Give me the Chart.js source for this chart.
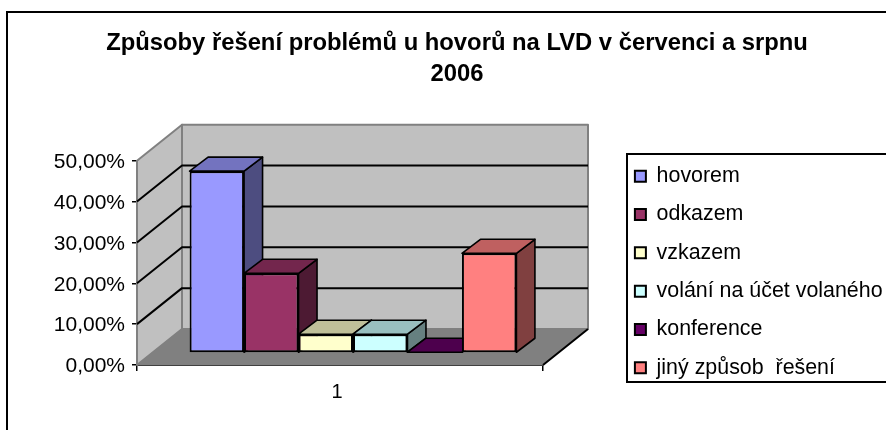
<!DOCTYPE html>
<html><head><meta charset="utf-8">
<style>html,body{margin:0;padding:0;background:#fff}canvas{display:block}</style>
<script src="https://cdn.jsdelivr.net/npm/chart.js@4"></script>
</head><body>
<div style="width:886px;height:430px"><canvas id="c" width="886" height="430"></canvas></div>
<script>
const categories = ['1'];
const seriesNames = ['hovorem','odkazem','vzkazem','volání na účet volaného','konference','jiný způsob  řešení'];
const hovorem = [44.5];
const odkazem = [19.5];
const vzkazem = [4.6];
const volani = [4.6];
const konference = [0.2];
const jiny = [24.4];
const seriesValues = [hovorem, odkazem, vzkazem, volani, konference, jiny];
const seriesColors = ['#9999FF','#993366','#FFFFCC','#CCFFFF','#660066','#FF8080'];
const titleLines = ['Způsoby řešení problémů u hovorů na LVD v červenci a srpnu','2006'];

const FONT = '"Liberation Sans", Arial, sans-serif';
const WALL = {dx:45, dy:36};      // depth of the 3D box
const BAR = {dx:13, dy:12, sx:18.5, sy:14}; // bar plane offset and bar depth

function shade(hex,f){
  const n=parseInt(hex.slice(1),16);
  return `rgb(${Math.round((n>>16&255)*f)},${Math.round((n>>8&255)*f)},${Math.round((n&255)*f)})`;
}
function poly(ctx,pts,fill,stroke,lw){
  ctx.beginPath();
  pts.forEach((p,i)=>i?ctx.lineTo(p[0],p[1]):ctx.moveTo(p[0],p[1]));
  ctx.closePath();
  if(fill){ctx.fillStyle=fill;ctx.fill();}
  if(stroke){ctx.strokeStyle=stroke;ctx.lineWidth=lw;ctx.lineJoin='round';ctx.stroke();}
}
const box3d = {
  id:'box3d',
  beforeLayout(chart){
    const lg=chart.legend;
    if(!lg._wrapped){
      const f=lg.fit;
      lg.fit=function(){ f.call(this); this.width=343; };
      lg._wrapped=true;
    }
  },
  afterLayout(chart){
    const l=chart.legend;
    l.left=618; l.right=886; l.top=121; l.bottom=423;
  },
  beforeDraw(chart){
    const ctx=chart.ctx;
    ctx.save();
    ctx.strokeStyle='#000';ctx.lineWidth=2;
    ctx.strokeRect(7,12,1000,1000);
    ctx.strokeRect(627,154,1000,228);
    ctx.restore();
  },
  beforeDatasetsDraw(chart){
    const {ctx,chartArea:a,scales:{y}}=chart;
    const y0=y.getPixelForValue(0), yT=y.getPixelForValue(50);
    const L=a.left,R=a.right,dx=WALL.dx,dy=WALL.dy;
    ctx.save();
    poly(ctx,[[L,y0],[L+dx,y0-dy],[L+dx,yT-dy],[L,yT]],'#C0C0C0','#808080',2);
    poly(ctx,[[L+dx,y0-dy],[R+dx,y0-dy],[R+dx,yT-dy],[L+dx,yT-dy]],'#C0C0C0','#808080',2);
    poly(ctx,[[L,y0],[R,y0],[R+dx,y0-dy],[L+dx,y0-dy]],'#808080','#808080',1);
    ctx.strokeStyle='#000';ctx.lineWidth=2;
    y.ticks.forEach(t=>{
      if(t.value===0||t.value===50) return;
      const p=y.getPixelForValue(t.value);
      ctx.beginPath();ctx.moveTo(L,p);ctx.lineTo(L+dx,p-dy);ctx.lineTo(R+dx,p-dy);ctx.stroke();
    });
    ctx.beginPath();ctx.moveTo(R,y0);ctx.lineTo(R+dx,y0-dy);ctx.strokeStyle='#000';ctx.stroke();
    ctx.restore();
    // bars, first series first, so each bar's front covers the previous bar's side
    seriesNames.forEach((n,i)=>{
      const meta=chart.getDatasetMeta(i), col=seriesColors[i];
      const p=meta.data[0].getProps(['x','y','base','width'],true);
      const l=p.x-p.width/2+BAR.dx, r=p.x+p.width/2+BAR.dx, t=p.y-BAR.dy, b=p.base-BAR.dy;
      poly(ctx,[[r,t],[r+BAR.sx,t-BAR.sy],[r+BAR.sx,b-BAR.sy],[r,b]],shade(col,0.5),'#000',1.6);
      poly(ctx,[[l,t],[l+BAR.sx,t-BAR.sy],[r+BAR.sx,t-BAR.sy],[r,t]],shade(col,0.75),'#000',1.6);
      ctx.save();
      ctx.translate(BAR.dx,-BAR.dy);
      meta.controller.draw();
      ctx.restore();
    });
    return false;
  }
};

new Chart(document.getElementById('c'),{
  type:'bar',
  data:{
    labels:categories,
    datasets:seriesNames.map((n,i)=>({
      label:n,data:seriesValues[i],backgroundColor:seriesColors[i],
      borderColor:'#000',borderWidth:2,borderSkipped:false
    }))
  },
  plugins:[box3d],
  options:{
    responsive:false,animation:false,
    layout:{padding:{left:28,right:0,top:0,bottom:0}},
    datasets:{bar:{barPercentage:1,categoryPercentage:0.805}},
    plugins:{
      tooltip:{enabled:false},
      title:{display:true,text:titleLines,color:'#000',
        font:{family:FONT,size:23.8,weight:'bold',lineHeight:1.3},
        padding:{top:28,bottom:70.8}},
      legend:{position:'right',align:'center',
        labels:{color:'#000',font:{family:FONT,size:21.4},boxWidth:11,boxHeight:11,padding:16.9}}
    },
    scales:{
      x:{
        offset:true,
        border:{color:'#000',width:2},
        grid:{drawOnChartArea:false,drawTicks:true,tickLength:6,color:'#000',lineWidth:1.5},
        ticks:{color:'#000',font:{family:FONT,size:20},padding:9,maxRotation:0,labelOffset:-3},
        afterFit(s){s.height=65;}
      },
      y:{
        min:0,max:50,
        border:{color:'#000',width:2},
        grid:{drawOnChartArea:false,drawTicks:true,tickLength:5,color:'#000',lineWidth:1.5},
        ticks:{stepSize:10,color:'#000',font:{family:FONT,size:21},padding:7,labelOffset:1.5,
          callback:v=>v.toFixed(2).replace('.',',')+'%'},
        afterFit(s){s.width=109;}
      }
    }
  }
});
</script>
</body></html>
